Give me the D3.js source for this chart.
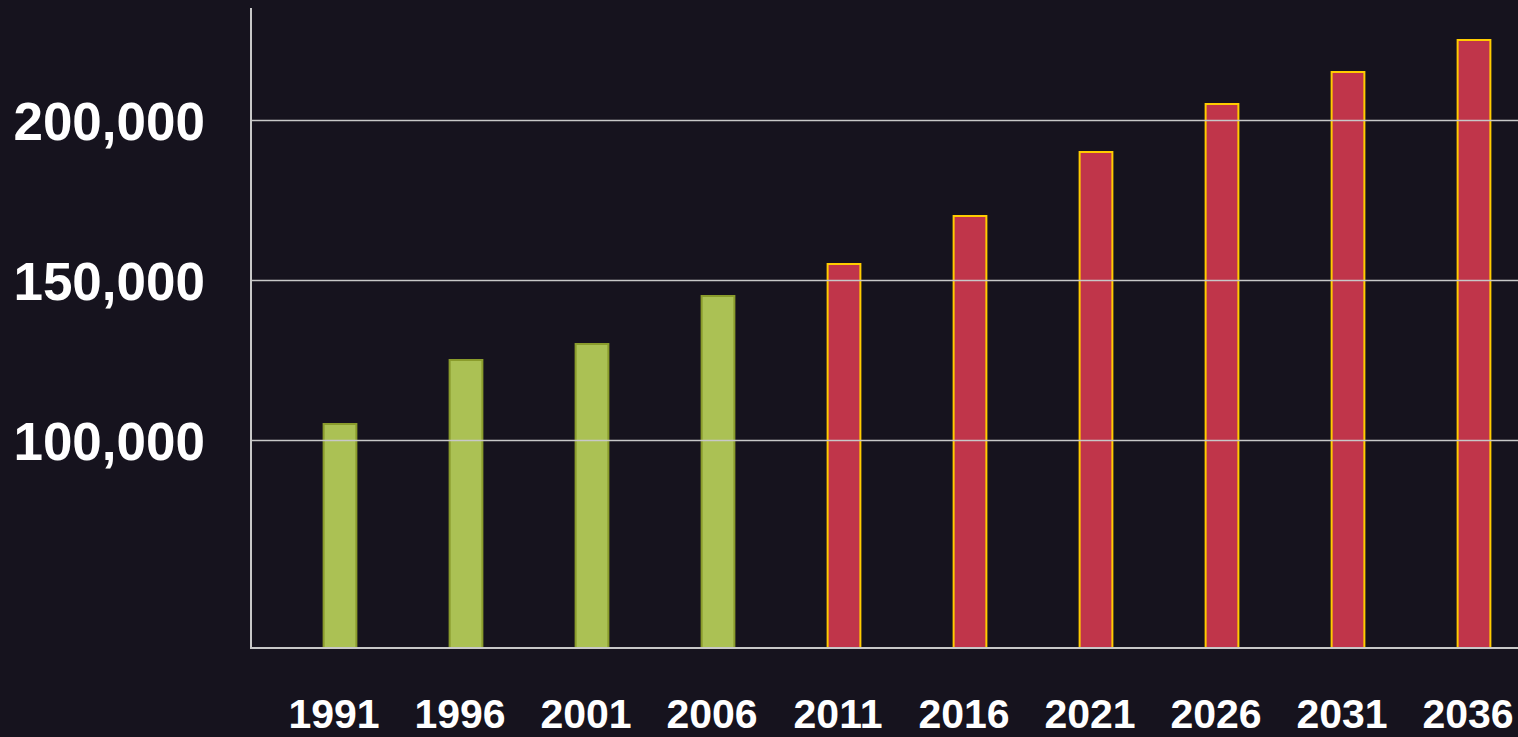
<!DOCTYPE html>
<html>
<head>
<meta charset="utf-8">
<script src="https://cdn.jsdelivr.net/npm/d3@7"></script>
<style>
  html, body { margin: 0; padding: 0; background: #16131e; }
  svg { display: block; }
</style>
</head>
<body>
<div id="chart"></div>
<script>
// population by census year (actual up to 2006, projected after)
let years = [1991, 1996, 2001, 2006, 2011, 2016, 2021, 2026, 2031, 2036];
let population = [105000, 125000, 130000, 145000, 155000, 170000, 190000, 205000, 215000, 225000];
let firstProjected = 2011;
let yTicks = [100000, 150000, 200000];
let yDomain = [35000, 235000];

function PopChart(id){
	this.id = id;
	this.width = 1518;
	this.height = 737;
	this.margin = { top: 8, right: 0, bottom: 89, left: 251 };
	this.data = [];
	for (let i = 0; i < years.length; i++) {
		this.data.push({ year: years[i], value: population[i], projected: years[i] >= firstProjected });
	}
}

PopChart.prototype = {
	constructor: PopChart,

	init: function(){
		let self = this;
		let w = self.width - self.margin.left - self.margin.right,
		    h = self.height - self.margin.top - self.margin.bottom;

		self.svg = d3.select(self.id).append("svg")
			.attr("width", self.width)
			.attr("height", self.height);

		let g = self.svg.append("g")
			.attr("transform", "translate(" + self.margin.left + "," + self.margin.top + ")");

		let x = d3.scaleBand()
			.domain(years)
			.range([26, 1286])
			.paddingInner(0.74)
			.paddingOuter(0.37);
		let y = d3.scaleLinear().domain(yDomain).range([h, 0]);

		// bars
		g.selectAll(".bar")
			.data(self.data)
			.enter().append("rect")
			.attr("class", "bar")
			.attr("x", function(d) { return x(d.year); })
			.attr("width", x.bandwidth())
			.attr("y", function(d) { return y(d.value); })
			.attr("height", function(d) { return h - y(d.value); })
			.attr("fill", function(d) { return d.projected ? "#c0354a" : "#abc154"; })
			.attr("stroke", function(d) { return d.projected ? "#ffcc00" : "#8a9c2c"; })
			.attr("stroke-width", 2);

		// gridlines + labels (drawn above the bars)
		let yAxis = g.append("g")
			.attr("class", "axis axis--y")
			.call(d3.axisLeft(y)
				.tickValues(yTicks)
				.tickSize(-w)
				.tickPadding(46)
				.tickFormat(d3.format(",")));
		yAxis.select(".domain").remove();
		yAxis.selectAll(".tick line")
			.attr("stroke", "#c8c8c8")
			.attr("stroke-width", 1.5);
		yAxis.selectAll(".tick text")
			.attr("fill", "#ffffff")
			.attr("dy", "0.36em")
			.style("font-family", "Liberation Sans, Arial, sans-serif")
			.style("font-weight", "bold")
			.style("font-size", "53px");

		// axis lines
		g.append("line")
			.attr("x1", 0).attr("x2", 0)
			.attr("y1", 0).attr("y2", h)
			.attr("stroke", "#c8c8c8").attr("stroke-width", 2);
		g.append("line")
			.attr("x1", -1).attr("x2", w)
			.attr("y1", h).attr("y2", h)
			.attr("stroke", "#c8c8c8").attr("stroke-width", 2);

		// year labels
		let xAxis = g.append("g")
			.attr("class", "axis axis--x")
			.attr("transform", "translate(-6," + h + ")")
			.call(d3.axisBottom(x).tickSize(0).tickPadding(51));
		xAxis.select(".domain").remove();
		xAxis.selectAll(".tick text")
			.attr("fill", "#ffffff")
			.style("font-family", "Liberation Sans, Arial, sans-serif")
			.style("font-weight", "bold")
			.style("font-size", "41px");
	}
}

let chart = new PopChart("#chart");
chart.init();
</script>
</body>
</html>
